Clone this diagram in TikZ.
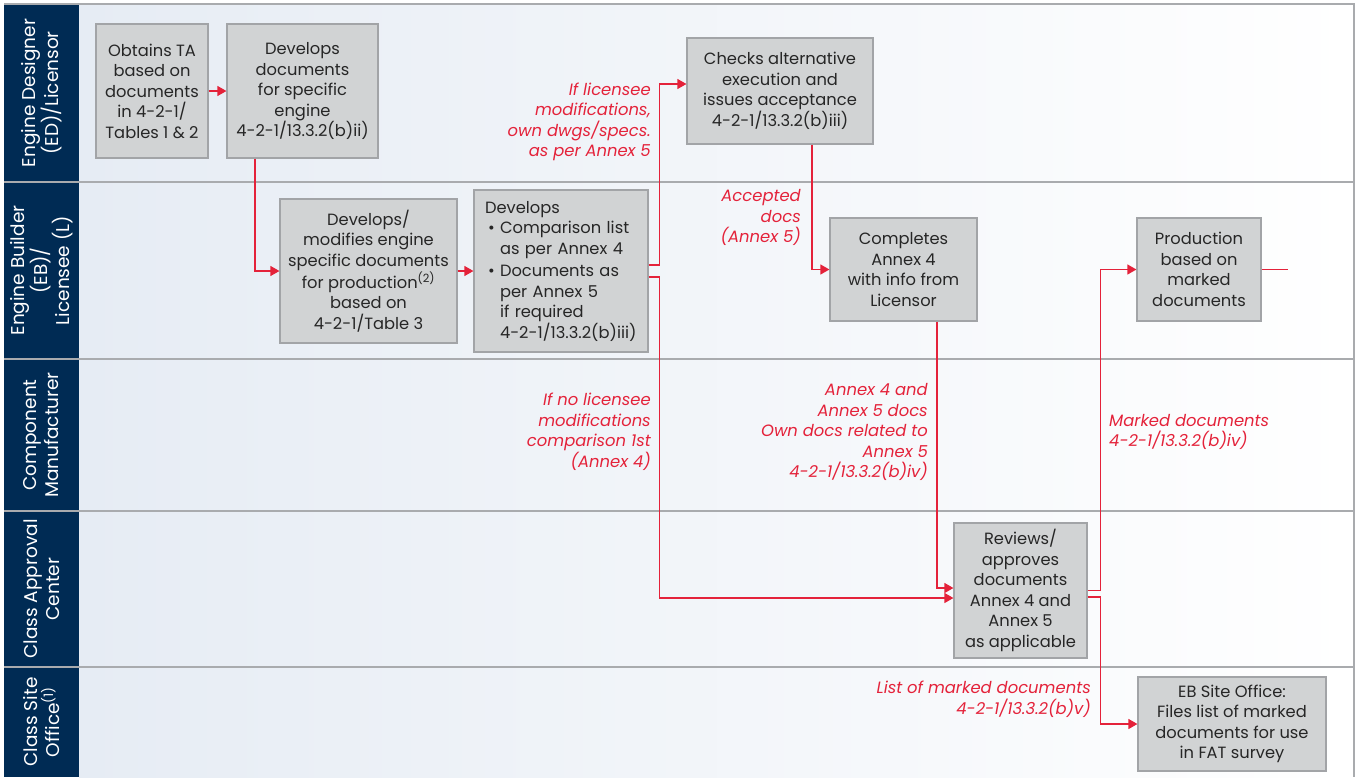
\documentclass[tikz,border=0pt]{standalone}
\usepackage{fontspec}
\setmainfont{Poppins}
\usetikzlibrary{arrows.meta,calc}
\definecolor{navy}{HTML}{002B54}
\definecolor{flowred}{HTML}{E4223A}
\definecolor{boxfill}{HTML}{D1D3D4}
\definecolor{boxline}{HTML}{A2A4A7}
\definecolor{laneline}{HTML}{A9ABAE}
\definecolor{lanebg}{HTML}{E6ECF4}
\begin{document}
\begin{tikzpicture}[x=1pt,y=-1pt,
 procbox/.style={draw=boxline,line width=1.2pt,fill=boxfill,inner sep=0pt,align=center,
   font=\fontsize{16.3}{20.5}\selectfont,text=black!85},
 lanehead/.style={rotate=90,text=white,align=center,font=\fontsize{18.5}{22}\selectfont},
 flowarrow/.style={draw=flowred,line width=1.2pt,-{Triangle[length=9pt,width=10pt]}},
 flowline/.style={draw=flowred,line width=1.2pt},
 flowlabel/.style={text=flowred,font=\fontsize{16.4}{20.5}\selectfont\itshape,inner sep=0pt}
]
\useasboundingbox (0,0) rectangle (1359,777);
% background
\shade[left color=lanebg,right color=white] (79,4) rectangle (1354,777);
\fill[navy] (4,4) rectangle (79,777);
\foreach \yy in {182,359,511,667}{\draw[laneline,line width=1.5pt] (4,\yy) -- (1354,\yy);}
\draw[laneline,line width=1.5pt] (4,4) -- (1354,4) -- (1354,777);
% lane headers
\node[lanehead] (h1) at (41.5,93) {Engine Designer\\(ED)/Licensor};
\node[lanehead] (h2) at (41.5,270.5) {Engine Builder\\(EB)/\\Licensee (L)};
\node[lanehead] (h3) at (41.5,435) {Component\\Manufacturer};
\node[lanehead] (h4) at (41.5,589) {Class Approval\\Center};
\node[lanehead] (h5) at (41.5,722) {Class Site\\Office\textsuperscript{(1)}};
% boxes
\node[procbox,minimum width=112pt,minimum height=134pt] (A) at (152,91)
  {Obtains TA\\based on\\documents\\in 4-2-1/\\Tables 1 \& 2};
\node[procbox,minimum width=151pt,minimum height=134pt] (B) at (302.5,91)
  {Develops\\documents\\for specific\\engine\\4-2-1/13.3.2(b)ii)};
\node[procbox,minimum width=177pt,minimum height=144pt] (C) at (368.5,271)
  {Develops/\\modifies engine\\specific documents\\for production\textsuperscript{(2)}\\based on\\4-2-1/Table 3};
\node[procbox,align=left,text width=152pt,inner xsep=11pt,minimum height=162pt] (D) at (561,271)
  {Develops\\
   \hspace*{3pt}\makebox[12pt][l]{\textbullet}Comparison list\\
   \hspace*{15pt}as per Annex 4\\[2pt]
   \hspace*{3pt}\makebox[12pt][l]{\textbullet}Documents as\\
   \hspace*{15pt}per Annex 5\\
   \hspace*{15pt}if required\\
   \hspace*{15pt}4-2-1/13.3.2(b)iii)};
\node[procbox,minimum width=186pt,minimum height=106pt] (E) at (780,91)
  {Checks alternative\\execution and\\issues acceptance\\4-2-1/13.3.2(b)iii)};
\node[procbox,minimum width=147pt,minimum height=103pt] (F) at (903.5,269.5)
  {Completes\\Annex 4\\with info from\\Licensor};
\node[procbox,minimum width=124pt,minimum height=103pt] (G) at (1199,269.5)
  {Production\\based on\\marked\\documents};
\node[procbox,minimum width=133pt,minimum height=135pt] (H) at (1020.5,590.5)
  {Reviews/\\approves\\documents\\Annex 4 and\\Annex 5\\as applicable};
\node[procbox,minimum width=188pt,minimum height=94pt] (I) at (1232,724)
  {EB Site Office:\\Files list of marked\\documents for use\\in FAT survey};
% connectors
\draw[flowarrow] (A.east) -- (B.west);
\draw[flowarrow] ([xshift=-47.5pt]B.south) |- (C.west);
\draw[flowarrow] (C.east) -- (D.west);
\draw[flowarrow] ([yshift=6pt]D.east) -- ++(11pt,0) |- ([yshift=7pt]E.west);
\draw[flowarrow] ([yshift=-6pt]D.east) -- ++(11pt,0) |- ([yshift=-7.5pt]H.west);
\draw[flowarrow] ([xshift=32pt]E.south) |- (F.west);
\draw[flowarrow] ([xshift=33.5pt]F.south) |- ([yshift=2.5pt]H.west);
\draw[flowarrow] (H.east) -- ++(13pt,0) |- (G.west);
\draw[flowarrow] ([yshift=-6.5pt]H.east) -- ++(13pt,0) |- (I.west);
\coordinate (Gend) at ([xshift=26pt]G.east);
\draw[flowline] (G.east) -- (Gend);
% labels
\node[flowlabel,align=right,anchor=east] (l1) at (651,122) {If licensee\\modifications,\\own dwgs/specs.\\as per Annex 5};
\node[flowlabel,align=right,anchor=east] (l2) at (801,217.5) {Accepted\\docs\\(Annex 5)};
\node[flowlabel,align=right,anchor=east] (l3) at (651,432) {If no licensee\\modifications\\comparison 1st\\(Annex 4)};
\node[flowlabel,align=right,anchor=east] (l4) at (928,432) {Annex 4 and\\Annex 5 docs\\Own docs related to\\Annex 5\\4-2-1/13.3.2(b)iv)};
\node[flowlabel,align=left,anchor=west] (l5) at (1109,432) {Marked documents\\4-2-1/13.3.2(b)iv)};
\node[flowlabel,align=right,anchor=east] (l6) at (1091,699) {List of marked documents\\4-2-1/13.3.2(b)v)};
\end{tikzpicture}
\end{document}
